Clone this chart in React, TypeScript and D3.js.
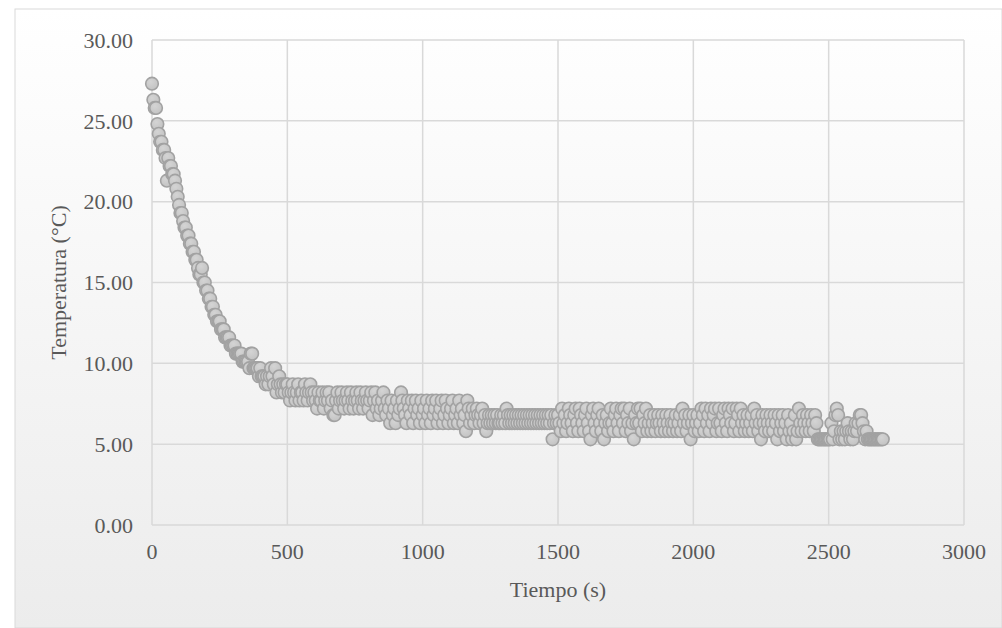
import React from 'react';
import * as d3 from 'd3';

// Tiempo (s)
const tiempo = [
  0, 5, 10, 15, 20, 25, 30, 35, 40, 45, 50, 55, 60, 65, 70, 75, 80, 85, 90, 95,
  100, 105, 110, 115, 120, 125, 130, 135, 140, 145, 150, 155, 160, 165, 170, 175, 180, 185, 190, 195,
  200, 205, 210, 215, 220, 225, 230, 235, 240, 245, 250, 255, 260, 265, 270, 275, 280, 285, 290, 295,
  300, 305, 310, 315, 320, 325, 330, 335, 340, 345, 350, 355, 360, 365, 370, 375, 380, 385, 390, 395,
  400, 405, 410, 415, 420, 425, 430, 435, 440, 445, 450, 455, 460, 465, 470, 475, 480, 485, 490, 495,
  500, 505, 510, 515, 520, 525, 530, 535, 540, 545, 550, 555, 560, 565, 570, 575, 580, 585, 590, 595,
  600, 605, 610, 615, 620, 625, 630, 635, 640, 645, 650, 655, 660, 665, 670, 675, 680, 685, 690, 695,
  700, 705, 710, 715, 720, 725, 730, 735, 740, 745, 750, 755, 760, 765, 770, 775, 780, 785, 790, 795,
  800, 805, 810, 815, 820, 825, 830, 835, 840, 845, 850, 855, 860, 865, 870, 875, 880, 885, 890, 895,
  900, 905, 910, 915, 920, 925, 930, 935, 940, 945, 950, 955, 960, 965, 970, 975, 980, 985, 990, 995,
  1000, 1005, 1010, 1015, 1020, 1025, 1030, 1035, 1040, 1045, 1050, 1055, 1060, 1065, 1070, 1075, 1080, 1085, 1090, 1095,
  1100, 1105, 1110, 1115, 1120, 1125, 1130, 1135, 1140, 1145, 1150, 1155, 1160, 1165, 1170, 1175, 1180, 1185, 1190, 1195,
  1200, 1205, 1210, 1215, 1220, 1225, 1230, 1235, 1240, 1245, 1250, 1255, 1260, 1265, 1270, 1275, 1280, 1285, 1290, 1295,
  1300, 1305, 1310, 1315, 1320, 1325, 1330, 1335, 1340, 1345, 1350, 1355, 1360, 1365, 1370, 1375, 1380, 1385, 1390, 1395,
  1400, 1405, 1410, 1415, 1420, 1425, 1430, 1435, 1440, 1445, 1450, 1455, 1460, 1465, 1470, 1475, 1480, 1485, 1490, 1495,
  1500, 1505, 1510, 1515, 1520, 1525, 1530, 1535, 1540, 1545, 1550, 1555, 1560, 1565, 1570, 1575, 1580, 1585, 1590, 1595,
  1600, 1605, 1610, 1615, 1620, 1625, 1630, 1635, 1640, 1645, 1650, 1655, 1660, 1665, 1670, 1675, 1680, 1685, 1690, 1695,
  1700, 1705, 1710, 1715, 1720, 1725, 1730, 1735, 1740, 1745, 1750, 1755, 1760, 1765, 1770, 1775, 1780, 1785, 1790, 1795,
  1800, 1805, 1810, 1815, 1820, 1825, 1830, 1835, 1840, 1845, 1850, 1855, 1860, 1865, 1870, 1875, 1880, 1885, 1890, 1895,
  1900, 1905, 1910, 1915, 1920, 1925, 1930, 1935, 1940, 1945, 1950, 1955, 1960, 1965, 1970, 1975, 1980, 1985, 1990, 1995,
  2000, 2005, 2010, 2015, 2020, 2025, 2030, 2035, 2040, 2045, 2050, 2055, 2060, 2065, 2070, 2075, 2080, 2085, 2090, 2095,
  2100, 2105, 2110, 2115, 2120, 2125, 2130, 2135, 2140, 2145, 2150, 2155, 2160, 2165, 2170, 2175, 2180, 2185, 2190, 2195,
  2200, 2205, 2210, 2215, 2220, 2225, 2230, 2235, 2240, 2245, 2250, 2255, 2260, 2265, 2270, 2275, 2280, 2285, 2290, 2295,
  2300, 2305, 2310, 2315, 2320, 2325, 2330, 2335, 2340, 2345, 2350, 2355, 2360, 2365, 2370, 2375, 2380, 2385, 2390, 2395,
  2400, 2405, 2410, 2415, 2420, 2425, 2430, 2435, 2440, 2445, 2450, 2455, 2460, 2465, 2470, 2475, 2480, 2485, 2490, 2495,
  2500, 2505, 2510, 2515, 2520, 2525, 2530, 2535, 2540, 2545, 2550, 2555, 2560, 2565, 2570, 2575, 2580, 2585, 2590, 2595,
  2600, 2605, 2610, 2615, 2620, 2625, 2630, 2635, 2640, 2645, 2650, 2655, 2660, 2665, 2670, 2675, 2680, 2685, 2690, 2695,
  2700,
];

// Temperatura (°C)
const temperatura = [
  27.3, 26.3, 25.8, 25.8, 24.8, 24.2, 23.7, 23.7, 23.2, 23.2, 22.7, 21.3, 22.7, 22.2, 22.2, 21.7, 21.7, 21.3, 20.8, 20.3,
  19.8, 19.3, 19.3, 18.8, 18.4, 18.4, 17.9, 17.9, 17.4, 17.4, 16.9, 16.9, 16.4, 16.4, 15.9, 15.5, 15.5, 15.9, 15.0, 15.0,
  14.5, 14.5, 14.0, 14.0, 13.5, 13.5, 13.0, 13.0, 12.6, 12.6, 12.6, 12.1, 12.1, 12.1, 11.6, 11.6, 11.6, 11.6, 11.1, 11.1,
  11.1, 11.1, 10.6, 10.6, 10.6, 10.6, 10.6, 10.1, 10.1, 10.1, 10.1, 10.1, 9.7, 10.6, 10.6, 9.7, 9.7, 9.7, 9.7, 9.2,
  9.7, 9.2, 9.2, 9.2, 8.7, 9.2, 8.7, 9.2, 9.7, 9.2, 8.7, 9.7, 8.2, 8.7, 9.2, 8.7, 8.2, 8.7, 8.2, 8.7,
  8.7, 8.2, 7.7, 8.2, 8.7, 8.2, 7.7, 8.2, 8.7, 7.7, 8.2, 8.2, 7.7, 8.7, 8.2, 7.7, 8.2, 8.7, 8.2, 7.7,
  8.2, 7.7, 7.2, 8.2, 7.7, 7.7, 8.2, 7.2, 7.7, 8.2, 7.7, 8.2, 7.2, 7.7, 6.8, 6.8, 7.7, 8.2, 7.2, 7.7,
  8.2, 7.7, 7.2, 7.7, 8.2, 7.7, 7.2, 8.2, 7.7, 7.2, 7.7, 8.2, 7.7, 7.2, 8.2, 7.7, 7.2, 7.7, 8.2, 7.7,
  7.2, 7.7, 8.2, 6.8, 7.7, 8.2, 7.2, 7.7, 6.8, 7.2, 7.7, 8.2, 7.2, 6.8, 7.7, 7.2, 6.3, 7.7, 6.8, 7.2,
  6.3, 7.7, 6.8, 7.2, 8.2, 7.7, 7.2, 6.8, 6.3, 7.7, 7.2, 6.8, 7.7, 6.3, 7.2, 7.7, 6.8, 7.2, 6.3, 7.7,
  6.8, 7.2, 6.3, 7.7, 6.8, 7.2, 6.3, 7.7, 6.8, 7.2, 7.7, 6.3, 6.8, 7.2, 7.7, 6.3, 6.8, 7.7, 7.2, 6.3,
  6.8, 7.2, 7.7, 6.3, 6.8, 7.2, 6.3, 7.7, 6.8, 7.2, 6.3, 6.8, 5.8, 7.7, 7.2, 6.3, 6.8, 7.2, 6.3, 6.8,
  7.2, 6.8, 6.3, 6.8, 7.2, 6.3, 6.8, 5.8, 6.3, 6.8, 6.3, 6.8, 6.3, 6.8, 6.3, 6.8, 6.3, 6.3, 6.8, 6.3,
  6.8, 6.3, 7.2, 6.8, 6.3, 6.8, 6.3, 6.8, 6.3, 6.8, 6.3, 6.8, 6.3, 6.8, 6.3, 6.8, 6.3, 6.8, 6.3, 6.8,
  6.3, 6.8, 6.3, 6.8, 6.3, 6.8, 6.3, 6.8, 6.3, 6.8, 6.3, 6.8, 6.3, 6.8, 6.3, 6.8, 5.3, 6.3, 6.8, 6.3,
  6.8, 6.3, 5.8, 7.2, 6.3, 6.8, 5.8, 6.3, 7.2, 6.8, 6.3, 5.8, 6.8, 7.2, 6.3, 5.8, 7.2, 6.8, 6.3, 5.8,
  6.8, 7.2, 6.3, 5.8, 5.3, 6.8, 7.2, 6.3, 5.8, 6.8, 7.2, 6.3, 5.8, 6.8, 5.3, 6.3, 6.8, 5.8, 6.3, 7.2,
  6.3, 5.8, 6.8, 7.2, 6.3, 5.8, 6.8, 7.2, 6.3, 7.2, 5.8, 6.8, 6.3, 7.2, 5.8, 6.3, 5.3, 6.8, 6.3, 7.2,
  6.3, 7.2, 5.8, 6.8, 6.3, 7.2, 5.8, 6.3, 6.8, 5.8, 6.3, 6.8, 5.8, 6.3, 6.8, 6.3, 5.8, 6.8, 6.3, 5.8,
  6.8, 6.3, 5.8, 6.8, 6.3, 5.8, 6.3, 6.8, 5.8, 6.3, 6.8, 5.8, 7.2, 6.3, 6.8, 5.8, 6.3, 6.8, 5.3, 6.3,
  6.8, 5.8, 6.3, 6.8, 5.8, 6.3, 7.2, 6.8, 5.8, 7.2, 6.3, 6.8, 5.8, 7.2, 6.3, 6.8, 7.2, 5.8, 6.3, 7.2,
  6.3, 5.8, 6.8, 7.2, 6.3, 5.8, 7.2, 6.8, 6.3, 7.2, 5.8, 6.3, 7.2, 6.8, 5.8, 7.2, 6.3, 6.8, 5.8, 6.3,
  6.8, 5.8, 6.3, 6.8, 5.8, 7.2, 6.3, 6.8, 5.8, 6.3, 5.3, 6.8, 6.3, 5.8, 6.8, 6.3, 5.8, 6.8, 6.3, 5.8,
  6.8, 6.3, 5.3, 6.8, 5.8, 6.3, 6.8, 5.8, 6.3, 5.3, 6.8, 5.8, 6.3, 5.3, 5.8, 6.8, 5.3, 5.8, 7.2, 6.3,
  5.8, 6.8, 6.3, 5.8, 6.8, 6.3, 5.8, 6.8, 6.3, 5.8, 6.8, 6.3, 5.3, 5.3, 5.3, 5.3, 5.3, 5.3, 5.3, 5.3,
  5.3, 5.3, 6.3, 5.3, 5.8, 6.8, 7.2, 6.8, 5.3, 5.8, 5.3, 5.8, 5.3, 5.8, 6.3, 5.8, 5.3, 5.8, 5.3, 5.8,
  6.3, 5.8, 6.3, 6.8, 6.8, 6.3, 5.8, 5.3, 5.8, 5.3, 5.3, 5.3, 5.3, 5.3, 5.3, 5.3, 5.3, 5.3, 5.3, 5.3,
  5.3,
];

const xTicks = [0, 500, 1000, 1500, 2000, 2500, 3000];
const yTicks = [0, 5, 10, 15, 20, 25, 30];

const W = 1002;
const H = 628;

export default function App() {
  const x = d3.scaleLinear().domain([0, 3000]).range([152, 964]);
  const y = d3.scaleLinear().domain([0, 30]).range([525, 40]);
  const font = '"Liberation Serif", "Times New Roman", serif';
  const points = tiempo.map((t, i) => ({ t, v: temperatura[i] }));

  return (
    <svg width={W} height={H} style={{ position: 'absolute', left: 0, top: 0 }}>
      <defs>
        <linearGradient id="bg" x1="0" y1="0" x2="0" y2="1">
          <stop offset="0%" stopColor="#ffffff" />
          <stop offset="100%" stopColor="#ececec" />
        </linearGradient>
        <radialGradient id="dot" cx="0.4" cy="0.35" r="0.7">
          <stop offset="0%" stopColor="#d4d4d4" />
          <stop offset="100%" stopColor="#c2c2c2" />
        </radialGradient>
      </defs>
      <rect x={0} y={0} width={W} height={H} fill="#ffffff" />
      <rect x={15} y={9} width={W - 15} height={H - 9} fill="url(#bg)" stroke="#d9d9d9" strokeWidth={1} />

      {/* grid */}
      {yTicks.map(v => (
        <line key={'gy' + v} x1={x(0)} x2={x(3000)} y1={y(v)} y2={y(v)} stroke="#d9d9d9" strokeWidth={1.5} />
      ))}
      {xTicks.map(v => (
        <line key={'gx' + v} x1={x(v)} x2={x(v)} y1={y(0)} y2={y(30)} stroke="#d9d9d9" strokeWidth={1.5} />
      ))}

      {/* tick labels */}
      {yTicks.map(v => (
        <text key={'ty' + v} x={x(0) - 19} y={y(v)} dy="0.35em" textAnchor="end"
          fontFamily={font} fontSize={22} fill="#595959">{v.toFixed(2)}</text>
      ))}
      {xTicks.map(v => (
        <text key={'tx' + v} x={x(v)} y={y(0) + 26} dy="0.35em" textAnchor="middle"
          fontFamily={font} fontSize={22} fill="#595959">{v}</text>
      ))}

      {/* points */}
      {points.map((d, i) => (
        <circle key={i} cx={x(d.t)} cy={y(d.v)} r={6.3} fill="url(#dot)" stroke="#a2a2a2" strokeWidth={1.6} />
      ))}

      {/* axis titles */}
      <text x={(x(0) + x(3000)) / 2} y={597} textAnchor="middle" fontFamily={font} fontSize={22} fill="#595959">
        Tiempo (s)
      </text>
      <text transform={`translate(58,${(y(0) + y(30)) / 2}) rotate(-90)`} textAnchor="middle" dy="0.35em"
        fontFamily={font} fontSize={22} fill="#595959">
        Temperatura (°C)
      </text>
    </svg>
  );
}
